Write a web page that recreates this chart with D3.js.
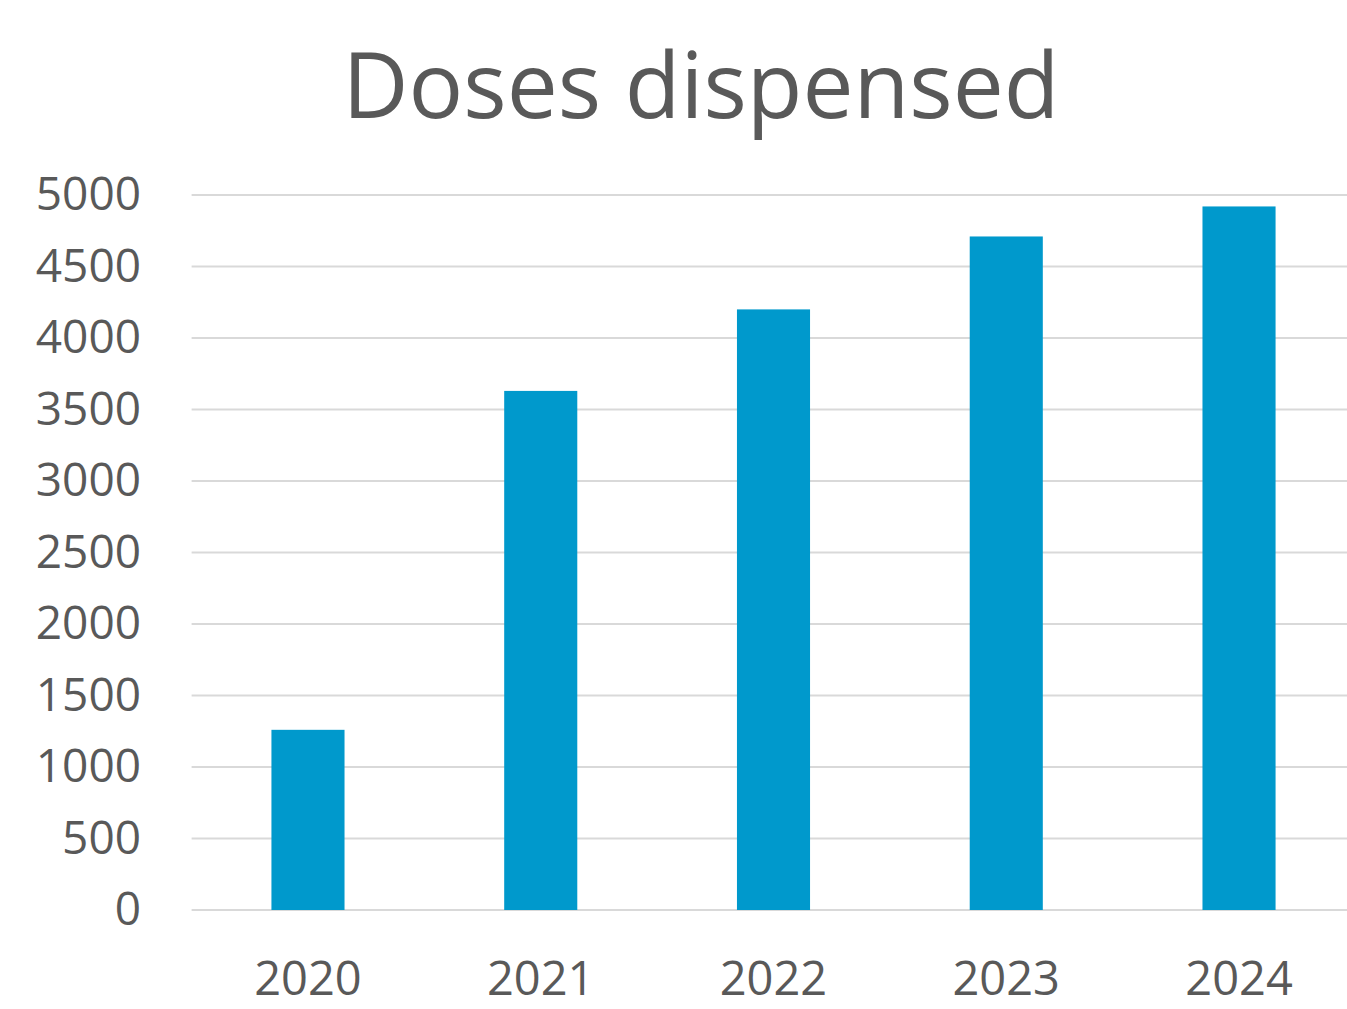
<!DOCTYPE html>
<html>
<head>
<meta charset="utf-8">
<script src="https://cdn.jsdelivr.net/npm/d3@7"></script>
<style>
  body { margin: 0; background: #fff; }
  text { font-family: "Open Sans", sans-serif; fill: #595959; }
</style>
</head>
<body>
<svg id="chart" width="1347" height="1009"></svg>
<script>
// Data
const years = ["2020", "2021", "2022", "2023", "2024"];
const doses = [1260, 3630, 4200, 4710, 4920];
const yTicks = [0, 500, 1000, 1500, 2000, 2500, 3000, 3500, 4000, 4500, 5000];

const svg = d3.select("#chart");

const x = d3.scaleBand()
    .domain(years)
    .range([191.6, 1355.4])
    .paddingInner(0.686)
    .paddingOuter(0.343);

const y = d3.scaleLinear()
    .domain([0, 5000])
    .range([910, 195]);

// Gridlines
svg.append("g")
    .selectAll("line")
    .data(yTicks)
    .enter().append("line")
    .attr("x1", 191.6)
    .attr("x2", 1347)
    .attr("y1", d => y(d))
    .attr("y2", d => y(d))
    .attr("stroke", "#d9d9d9")
    .attr("stroke-width", 2);

// Y axis labels
svg.append("g")
    .selectAll("text")
    .data(yTicks)
    .enter().append("text")
    .attr("x", 141)
    .attr("y", d => y(d))
    .attr("dy", "0.33em")
    .attr("text-anchor", "end")
    .style("font-size", "46px")
    .text(d => d);

// Bars
svg.append("g")
    .selectAll("rect")
    .data(doses)
    .enter().append("rect")
    .attr("x", (d, i) => x(years[i]))
    .attr("width", x.bandwidth())
    .attr("y", d => y(d))
    .attr("height", d => y(0) - y(d))
    .attr("fill", "#0099cc");

// X axis labels
svg.append("g")
    .selectAll("text")
    .data(years)
    .enter().append("text")
    .attr("x", d => x(d) + x.bandwidth() / 2)
    .attr("y", 995)
    .attr("text-anchor", "middle")
    .style("font-size", "47px")
    .text(d => d);

// Title
svg.append("text")
    .attr("x", 701)
    .attr("y", 118)
    .attr("text-anchor", "middle")
    .style("font-size", "91px")
    .text("Doses dispensed");
</script>
</body>
</html>
